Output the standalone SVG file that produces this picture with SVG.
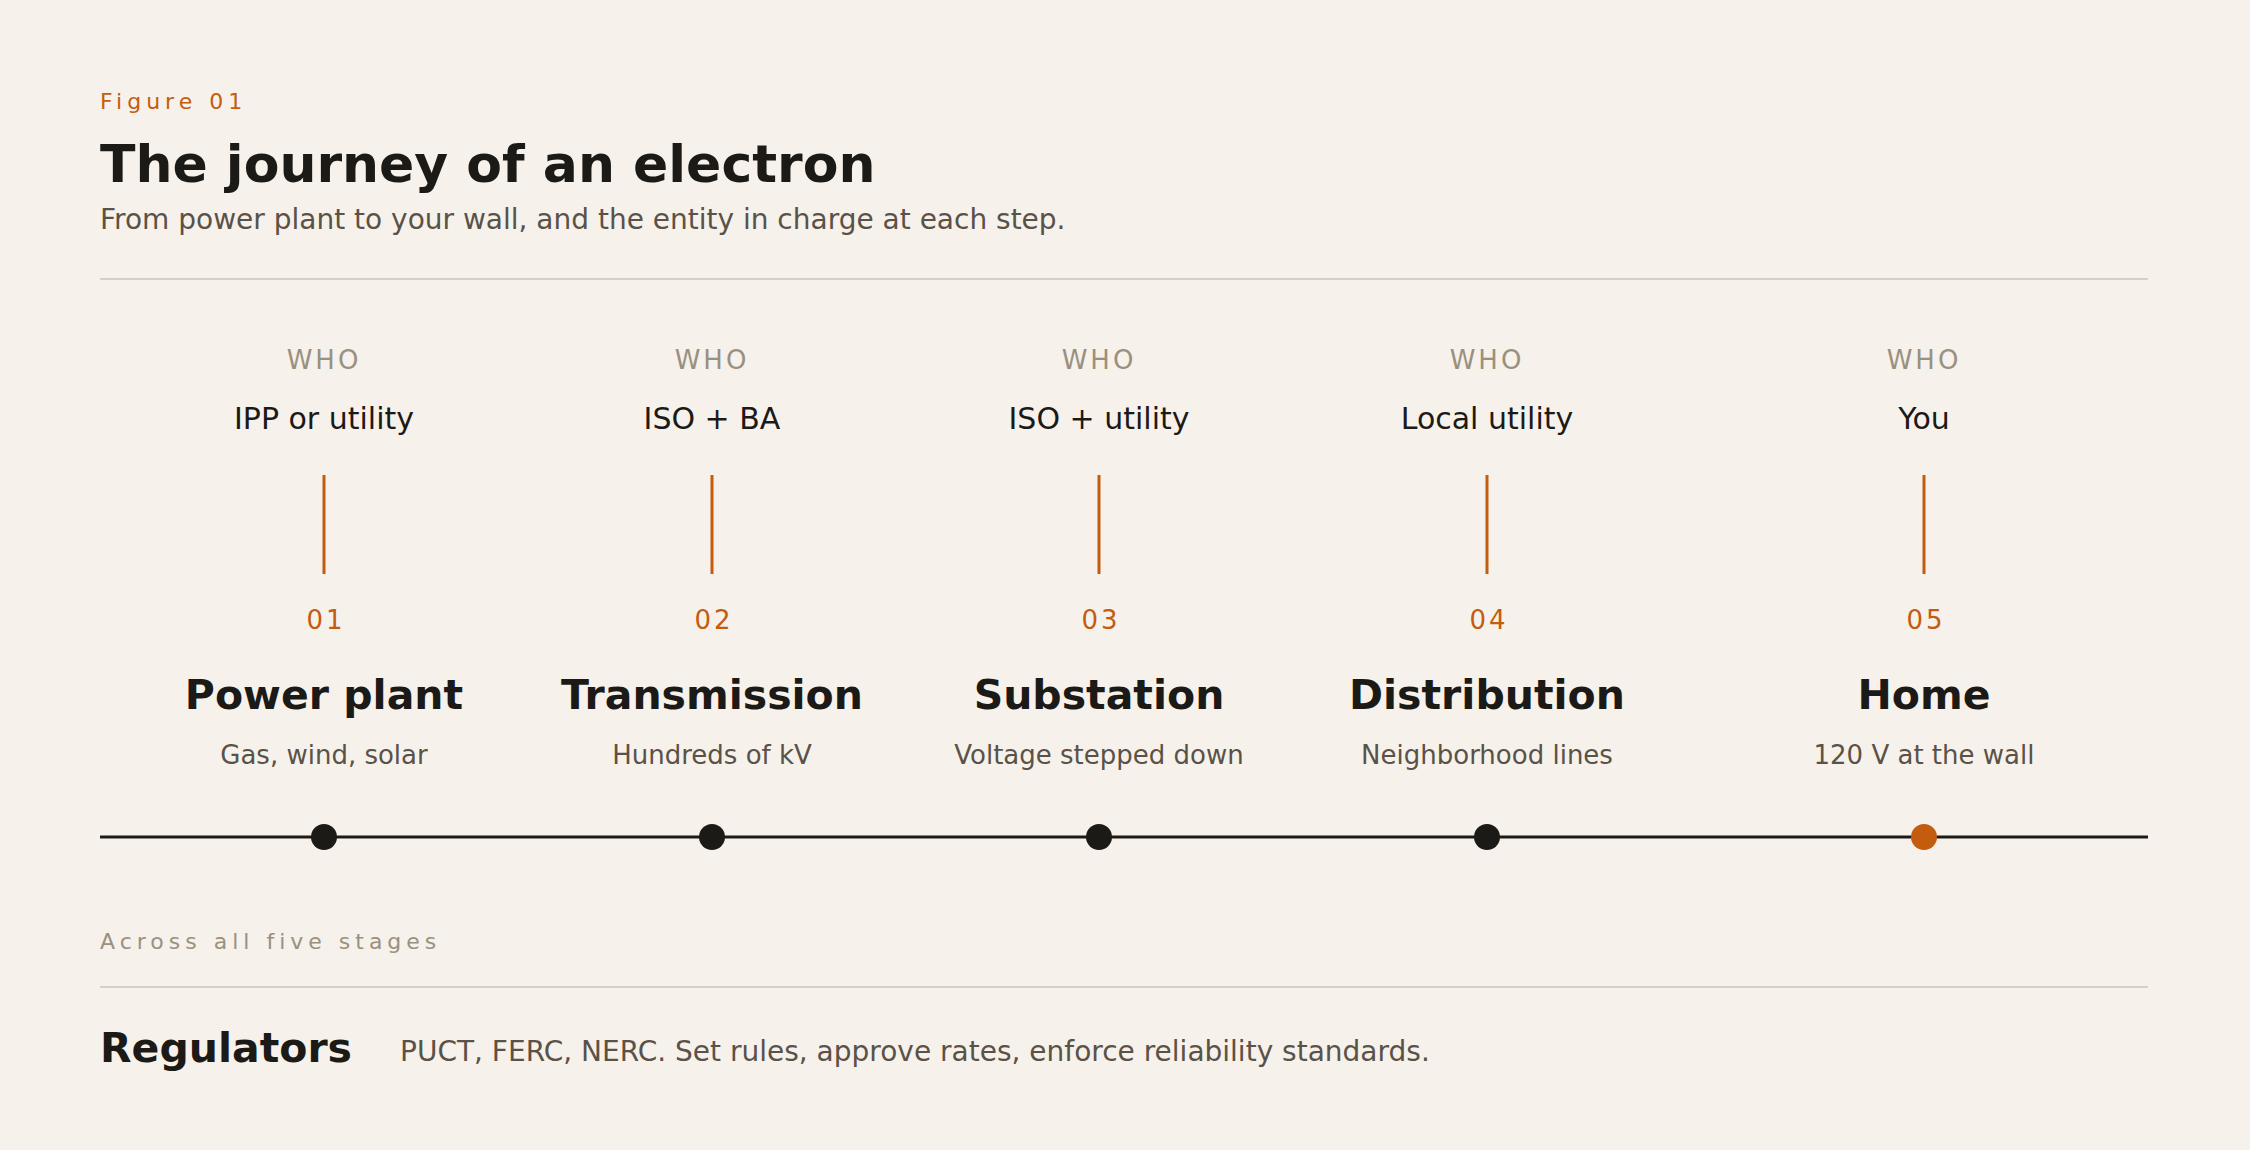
<svg xmlns="http://www.w3.org/2000/svg" width="2250" height="1150" viewBox="0 0 2250 1150">
<style>
text{font-family:"DejaVu Sans",sans-serif}
.eyebrow{font-size:22px;fill:#c45c10;letter-spacing:5px}
.title{font-size:52px;font-weight:bold;fill:#1c1a17}
.sub{font-size:28px;fill:#5a5248}
.who{font-size:26px;fill:#9a9080;letter-spacing:3px;text-anchor:middle}
.whoname{font-size:30px;fill:#1c1a17;text-anchor:middle}
.num{font-size:26px;fill:#c45c10;letter-spacing:3px;text-anchor:middle}
.stage{font-size:41px;font-weight:bold;fill:#1c1a17;text-anchor:middle}
.desc{font-size:26px;fill:#5a5248;text-anchor:middle}
.tick{stroke:#c45c10;stroke-width:3}
.rule{stroke:#d6d0c4;stroke-width:2}
.dot{fill:#1c1a17}
</style>
<rect width="2250" height="1150" fill="#f6f1ea"/>
<text x="100" y="109" class="eyebrow">Figure 01</text>
<text x="100" y="182" class="title">The journey of an electron</text>
<text x="100" y="229" class="sub">From power plant to your wall, and the entity in charge at each step.</text>
<line x1="100" y1="279" x2="2148" y2="279" class="rule"/>
<g id="connectors">
<line x1="100" y1="837" x2="2148" y2="837" stroke="#1c1a17" stroke-width="3"/>
</g>
<g id="n1"><text x="324" y="369" class="who">WHO</text><text x="324" y="429" class="whoname">IPP or utility</text><line x1="324" y1="475" x2="324" y2="574" class="tick"/><text x="326" y="629" class="num">01</text><text x="324" y="709" class="stage">Power plant</text><text x="324" y="764" class="desc">Gas, wind, solar</text><circle cx="324" cy="837" r="13" class="dot"/></g>
<g id="n2"><text x="712" y="369" class="who">WHO</text><text x="712" y="429" class="whoname">ISO + BA</text><line x1="712" y1="475" x2="712" y2="574" class="tick"/><text x="714" y="629" class="num">02</text><text x="712" y="709" class="stage">Transmission</text><text x="712" y="764" class="desc">Hundreds of kV</text><circle cx="712" cy="837" r="13" class="dot"/></g>
<g id="n3"><text x="1099" y="369" class="who">WHO</text><text x="1099" y="429" class="whoname">ISO + utility</text><line x1="1099" y1="475" x2="1099" y2="574" class="tick"/><text x="1101" y="629" class="num">03</text><text x="1099" y="709" class="stage">Substation</text><text x="1099" y="764" class="desc">Voltage stepped down</text><circle cx="1099" cy="837" r="13" class="dot"/></g>
<g id="n4"><text x="1487" y="369" class="who">WHO</text><text x="1487" y="429" class="whoname">Local utility</text><line x1="1487" y1="475" x2="1487" y2="574" class="tick"/><text x="1489" y="629" class="num">04</text><text x="1487" y="709" class="stage">Distribution</text><text x="1487" y="764" class="desc">Neighborhood lines</text><circle cx="1487" cy="837" r="13" class="dot"/></g>
<g id="n5"><text x="1924" y="369" class="who">WHO</text><text x="1924" y="429" class="whoname">You</text><line x1="1924" y1="475" x2="1924" y2="574" class="tick"/><text x="1926" y="629" class="num">05</text><text x="1924" y="709" class="stage">Home</text><text x="1924" y="764" class="desc">120 V at the wall</text><circle cx="1924" cy="837" r="13" fill="#c45c10"/></g>
<text x="100" y="949" font-size="22" fill="#9a9080" letter-spacing="5">Across all five stages</text>
<line x1="100" y1="987" x2="2148" y2="987" class="rule"/>
<g id="regulators"><text x="100" y="1062" font-size="41" font-weight="bold" fill="#1c1a17">Regulators</text>
<text x="400" y="1061" font-size="28" fill="#5a5248">PUCT, FERC, NERC. Set rules, approve rates, enforce reliability standards.</text></g>
</svg>
